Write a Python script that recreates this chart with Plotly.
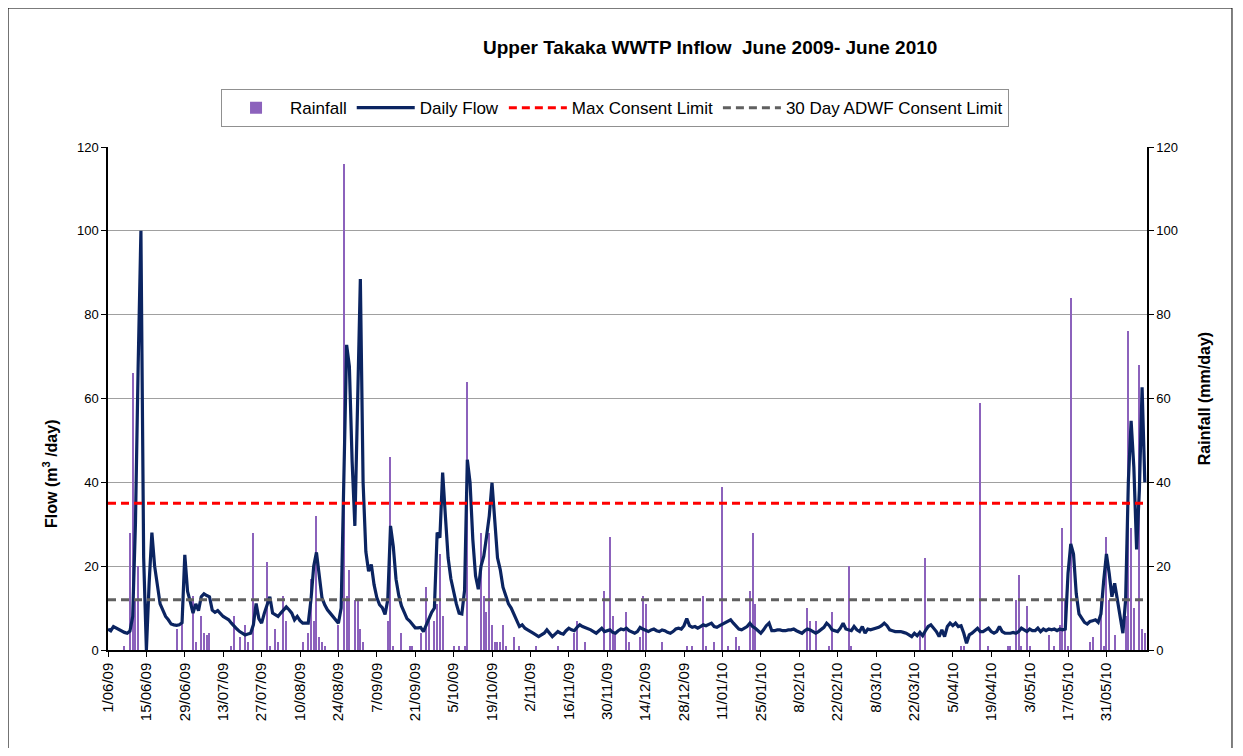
import datetime as dt
import plotly.graph_objects as go

# ---------------- data ----------------
start_date = dt.date(2009, 6, 1)

# Daily flow (m3/day), one value per day starting 1 June 2009
daily_flow = [
    5.0, 4.6, 5.6, 5.2, 4.8, 4.5, 4.2, 4.0, 4.5, 8.0,
    30, 68, 100, 22, 0, 16, 28, 20, 16, 11,
    9.5, 8.0, 7.2, 6.2, 6.0, 5.9, 6.0, 6.5, 22.7, 14,
    11.5, 8.8, 11, 9.4, 12.7, 13.4, 13, 12.7, 9.5, 9.0,
    9.4, 8.6, 8.0, 7.6, 7.2, 6.4, 5.6, 5.0, 4.4, 4.0,
    3.6, 3.8, 4.0, 6.0, 11.1, 7.5, 6.4, 8.8, 11, 12.7,
    8.8, 8.5, 8.0, 8.8, 9.5, 10.3, 9.6, 8.8, 7.2, 8.0,
    7.0, 6.4, 6.4, 6.4, 12, 20, 23.3, 17, 12.5, 10.8,
    9.6, 8.8, 8.0, 7.2, 6.4, 10, 45, 72.8, 67.6, 45,
    29.6, 60, 88.5, 40, 23.5, 18.8, 20.4, 15.6, 12.5, 10.8,
    10.1, 8.5, 12, 29.6, 24.8, 16.9, 13, 10.5, 8.8, 7.5,
    6.9, 6.0, 5.3, 5.3, 5.4, 4.4, 6.0, 7.6, 9.0, 10.0,
    28, 26.8, 42.3, 32, 22, 17, 13.5, 11, 8.8, 8.6,
    14.3, 45.4, 39.9, 26.4, 17.7, 14.5, 20, 22.4, 27, 32,
    39.9, 30.4, 22, 19.2, 15, 13, 11, 10, 8.5, 7.2,
    5.6, 6.0, 5.2, 4.8, 4.5, 4.0, 3.6, 3.2, 3.6, 4.0,
    4.8, 4.0, 3.2, 3.8, 4.4, 4.0, 3.8, 4.6, 5.2, 4.8,
    4.6, 5.4, 6.0, 5.6, 5.4, 5.0, 4.8, 4.4, 4.0, 4.6,
    5.2, 4.4, 4.6, 4.8, 4.2, 4.0, 4.6, 5.0, 4.8, 5.2,
    4.6, 4.2, 4.0, 4.4, 5.4, 5.0, 4.6, 4.4, 4.8, 5.0,
    4.6, 4.4, 4.8, 4.6, 4.2, 4.0, 4.4, 5.0, 5.2, 5.0,
    5.8, 7.5, 5.8, 5.4, 5.6, 5.2, 5.6, 6.0, 5.8, 6.2,
    6.4, 5.6, 5.4, 5.8, 6.2, 6.4, 6.8, 7.2, 6.4, 5.6,
    5.0, 4.8, 5.2, 5.6, 6.4, 5.6, 5.2, 4.6, 4.0, 4.8,
    5.8, 6.4, 4.6, 4.6, 4.8, 4.8, 4.6, 4.6, 4.8, 4.8,
    5.0, 4.6, 4.4, 4.0, 4.6, 5.0, 4.8, 4.4, 4.0, 4.4,
    4.8, 5.4, 6.4, 5.8, 4.8, 4.6, 4.4, 5.2, 6.4, 5.0,
    4.8, 4.6, 5.6, 4.8, 4.4, 5.6, 4.0, 5.0, 4.8, 5.0,
    5.2, 5.4, 5.8, 6.4, 5.8, 4.8, 4.6, 4.4, 4.4, 4.4,
    4.2, 4.0, 3.6, 3.2, 4.0, 3.4, 4.2, 3.4, 4.6, 5.6,
    6.0, 5.2, 4.4, 3.2, 4.8, 3.2, 5.6, 6.4, 5.8, 6.4,
    5.6, 5.8, 4.0, 1.6, 3.6, 4.0, 4.6, 5.2, 4.4, 4.4,
    4.8, 5.2, 4.4, 4.0, 4.4, 5.6, 4.4, 4.0, 4.0, 4.0,
    4.2, 4.0, 4.4, 5.2, 4.8, 4.4, 5.0, 4.6, 4.6, 5.2,
    4.4, 5.0, 4.6, 5.0, 4.8, 5.0, 4.6, 5.0, 4.8, 5.0,
    18.3, 25.3, 22.9, 13.4, 8.6, 7.5, 6.6, 6.2, 6.8, 7.0,
    7.2, 6.6, 8.6, 16.5, 22.9, 18.3, 12.7, 15.9, 11.9, 8.0,
    4.0, 12.0, 40.3, 54.7, 43.5, 24.0, 38.0, 62.7, 40.0,
]

# Rainfall (mm/day): day offset from 1 June 2009 and amount (dry days omitted)
rain_day = [6, 8, 9, 10, 11, 25, 27, 31, 32, 34, 35, 36, 37, 45, 46, 48, 50, 51, 53,
            58, 59, 61, 62, 64, 65, 71, 73, 74, 75, 76, 77, 78, 79, 84, 86, 87, 88,
            90, 91, 92, 93, 102, 103, 104, 107, 110, 111, 114, 116, 117, 119, 120,
            121, 122, 126, 128, 130, 131, 136, 137, 138, 139, 140, 141, 142, 143,
            144, 145, 148, 150, 156, 164, 170, 171, 174, 181, 183, 184, 185, 189,
            190, 194, 195, 196, 202, 211, 213, 217, 218, 221, 224, 226, 229, 230,
            234, 235, 236, 255, 256, 258, 263, 264, 270, 271, 296, 298, 311, 312,
            318, 321, 328, 329, 331, 332, 333, 335, 336, 343, 345, 347, 348, 349,
            350, 351, 358, 359, 362, 363, 364, 365, 367, 371, 372, 373, 374, 376,
            377, 378]
rain_mm = [1, 28, 66, 12, 20, 5, 7, 13, 2, 8, 4, 3.5, 4, 1, 8, 3, 6, 2, 28,
           21, 1, 5, 2, 13, 7, 2, 4, 17, 7, 32, 3, 2, 1, 6, 116, 13, 19,
           12, 12, 5, 2, 7, 46, 1, 4, 1, 1, 4, 15, 7, 7, 11,
           23, 8, 1, 1, 1, 64, 28, 13, 9, 28, 6, 2, 2, 2,
           6, 1, 3, 1, 1, 1, 4, 7, 2, 14, 27, 8, 4, 9,
           2, 3, 13, 11, 2, 1, 1, 13, 1, 2, 39, 1, 3, 1,
           14, 28, 11, 10, 7, 7, 1, 9, 20, 1, 4, 22, 1, 1,
           59, 1, 1, 1, 12, 18, 1, 10.5, 1, 3.5, 1, 6, 29, 12,
           1, 84, 2, 3, 12, 1, 27, 12, 3.5, 8, 76, 29, 10, 68,
           5, 4]

max_consent_limit = 35      # m3/day
adwf_consent_limit = 12     # m3/day (30 day ADWF)

# x tick labels every 14 days, 1/06/09 .. 31/05/10
tick_dates = [start_date + dt.timedelta(days=14 * k) for k in range(27)]

flow_dates = [start_date + dt.timedelta(days=i) for i in range(len(daily_flow))]
rain_dates = [start_date + dt.timedelta(days=d) for d in rain_day]

# ---------------- figure ----------------
FONT = "Liberation Sans, Arial, sans-serif"
DAY_MS = 86400000

fig = go.Figure()

fig.add_trace(go.Bar(
    x=rain_dates, y=rain_mm, name="Rainfall",
    marker=dict(color="#8C62BC", line=dict(width=0)),
    width=0.42 * DAY_MS, yaxis="y",
))
fig.add_trace(go.Scatter(
    x=flow_dates, y=daily_flow, name="Daily Flow", mode="lines",
    line=dict(color="#0B2461", width=3.2), yaxis="y2",
))
fig.add_trace(go.Scatter(
    x=[flow_dates[0], flow_dates[-1]], y=[max_consent_limit] * 2,
    name="Max Consent Limit", mode="lines",
    line=dict(color="#FF0000", width=3, dash="8px,5px"), yaxis="y2",
))
fig.add_trace(go.Scatter(
    x=[flow_dates[0], flow_dates[-1]], y=[adwf_consent_limit] * 2,
    name="30 Day ADWF Consent Limit", mode="lines",
    line=dict(color="#606060", width=3, dash="8px,5px"), yaxis="y2",
))

# page body has an 8px margin: figure is sized/positioned to compensate
fig.update_layout(
    width=1227, height=740,
    margin=dict(l=100, r=88, t=139, b=98),
    paper_bgcolor="white", plot_bgcolor="white",
    font=dict(family=FONT, size=13, color="black"),
    showlegend=True,
    bargap=0,
    legend=dict(
        orientation="h", x=0.488, y=1.115, xanchor="center", yanchor="top",
        bordercolor="#909090", borderwidth=1, bgcolor="white",
        font=dict(family=FONT, size=17), traceorder="normal",
        itemwidth=58, tracegroupgap=0,
    ),
    xaxis=dict(
        type="date",
        range=["2009-06-01", "2010-06-14 19:00"],
        tickvals=tick_dates,
        tickformat="%-d/%m/%y", tickangle=-90,
        ticks="outside", ticklen=5, tickcolor="black",
        showline=True, linecolor="black", linewidth=1.5,
        showgrid=False, zeroline=False,
        tickfont=dict(family=FONT, size=15),
    ),
    yaxis=dict(
        side="right", range=[0, 120], dtick=20,
        title=dict(text="<b>Rainfall (mm/day)</b>", font=dict(size=16), standoff=22),
        showgrid=True, gridcolor="#A0A0A0", gridwidth=1.2,
        showline=True, linecolor="black", linewidth=1.5,
        ticks="outside", ticklen=5, tickcolor="black",
        zeroline=False, tickfont=dict(size=13),
    ),
    yaxis2=dict(
        overlaying="y", side="left", range=[0, 120], dtick=20,
        showgrid=False, showline=True, linecolor="black", linewidth=1.5,
        ticks="outside", ticklen=5, tickcolor="black",
        zeroline=False, tickfont=dict(size=13),
    ),
    annotations=[
        dict(
            text="<b>Upper Takaka WWTP Inflow\u00a0\u00a0June 2009- June 2010</b>",
            xref="paper", yref="paper", x=0.579, y=1.197,
            xanchor="center", yanchor="middle", showarrow=False,
            font=dict(family=FONT, size=19),
        ),
        dict(
            text="<b>Flow (m<sup>3</sup> /day)</b>",
            xref="paper", yref="paper", x=-0.0558, y=0.35,
            xanchor="center", yanchor="middle", textangle=-90, showarrow=False,
            font=dict(family=FONT, size=16),
        ),
    ],
    shapes=[dict(
        type="rect", xref="paper", yref="paper",
        x0=-0.0962, x1=1.0818, y0=-0.35, y1=1.2763,
        line=dict(color="black", width=1), fillcolor="rgba(0,0,0,0)",
    )],
)

fig.write_html("out.html")
